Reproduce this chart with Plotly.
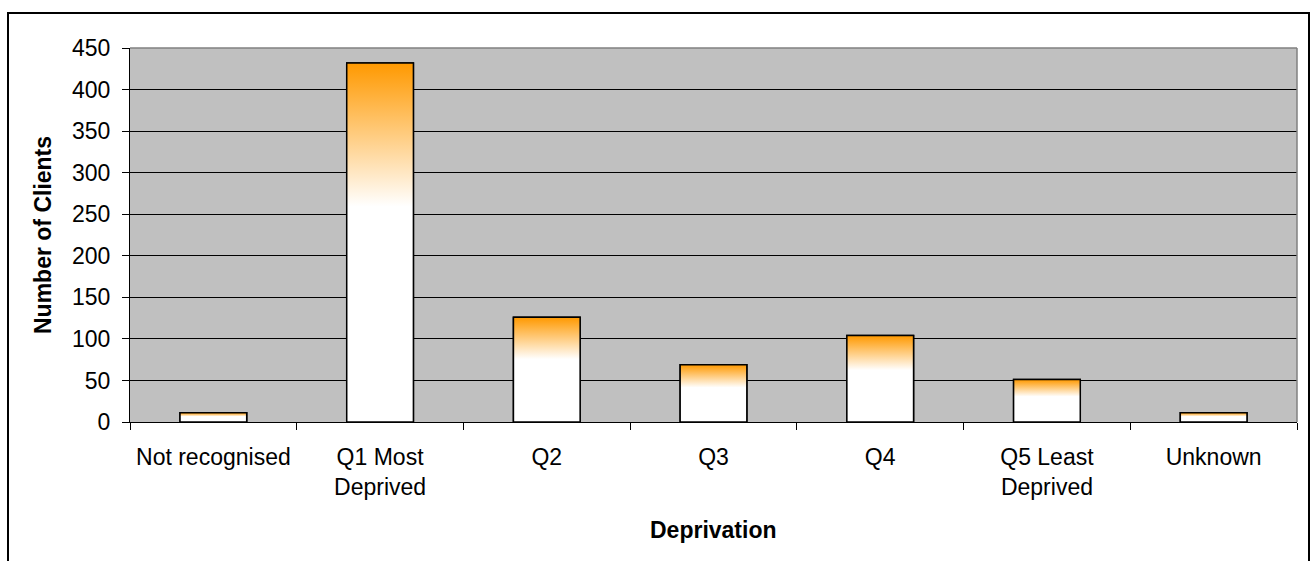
import plotly.graph_objects as go

# Clients by deprivation quintile
categories = ["Not recognised", "Q1 Most<br>Deprived", "Q2", "Q3", "Q4",
              "Q5 Least<br>Deprived", "Unknown"]
clients = [11, 432, 126, 69, 104, 51, 11]
y_ticks = [0, 50, 100, 150, 200, 250, 300, 350, 400, 450]

ORANGE = "#FF9900"
PLOT_BG = "#C0C0C0"
FONT = "Liberation Sans, Arial, sans-serif"
FONT_SIZE = 23
BAR_WIDTH = 0.4

# Figure geometry (pixels)
W, H = 1314, 561
L, R, T, B = 130, 17, 48, 139
PW, PH = W - L - R, H - T - B


def px_to_paper_x(px):
    return (px - L) / PW


def px_to_paper_y(py):
    return (H - B - py) / PH


fig = go.Figure()

# White bars with black outline on the category axis
fig.add_trace(go.Bar(
    x=categories, y=clients, width=BAR_WIDTH,
    marker=dict(color="white", line=dict(color="black", width=1.5)),
    hovertemplate="%{x}: %{y}<extra></extra>",
))

# Orange-to-white gradient overlay for each bar
for i, v in enumerate(clients):
    x0, x1 = i - BAR_WIDTH / 2, i + BAR_WIDTH / 2
    fig.add_trace(go.Scatter(
        x=[x0, x0, x1, x1, x0], y=[0, v, v, 0, 0],
        xaxis="x2", mode="lines", fill="toself",
        line=dict(color="black", width=1.5),
        fillgradient=dict(type="vertical",
                          colorscale=[[0, "white"], [0.6, "white"], [1, ORANGE]]),
        hoverinfo="skip", showlegend=False,
    ))

fig.update_layout(
    width=W, height=H,
    margin=dict(l=L, r=R, t=T, b=B),
    paper_bgcolor="white", plot_bgcolor=PLOT_BG,
    font=dict(family=FONT, size=FONT_SIZE, color="black"),
    showlegend=False,
    xaxis=dict(
        type="category", range=[-0.5, len(categories) - 0.5],
        tickson="boundaries", ticks="outside", ticklen=7, tickcolor="black",
        tickwidth=1, showline=True, linecolor="black", linewidth=1,
        showgrid=False, ticklabelstandoff=14,
    ),
    xaxis2=dict(
        overlaying="x", range=[-0.5, len(categories) - 0.5], visible=False,
    ),
    yaxis=dict(
        range=[0, 450], tickvals=y_ticks, ticks="outside", ticklen=7,
        tickcolor="black", tickwidth=1, showline=True, linecolor="black",
        linewidth=1, showgrid=True, gridcolor="black", gridwidth=1,
        zeroline=False, ticklabelstandoff=7,
    ),
    annotations=[
        dict(text="<b>Number of Clients</b>", textangle=-90,
             x=px_to_paper_x(43), y=0.5, xref="paper", yref="paper",
             xanchor="center", yanchor="middle", showarrow=False),
        dict(text="<b>Deprivation</b>",
             x=0.5, y=px_to_paper_y(530), xref="paper", yref="paper",
             xanchor="center", yanchor="middle", showarrow=False),
    ],
    shapes=[
        # plot area border (top and right)
        dict(type="line", xref="paper", yref="paper", x0=0, x1=1, y0=1, y1=1,
             line=dict(color="#808080", width=1.5), layer="above"),
        dict(type="line", xref="paper", yref="paper", x0=1, x1=1, y0=0, y1=1,
             line=dict(color="#808080", width=1.5), layer="above"),
        # outer chart frame
        dict(type="rect", xref="paper", yref="paper",
             x0=px_to_paper_x(8), x1=px_to_paper_x(1309),
             y0=px_to_paper_y(566), y1=px_to_paper_y(13),
             line=dict(color="black", width=2), fillcolor="rgba(0,0,0,0)"),
    ],
)

fig.write_html("out.html")
